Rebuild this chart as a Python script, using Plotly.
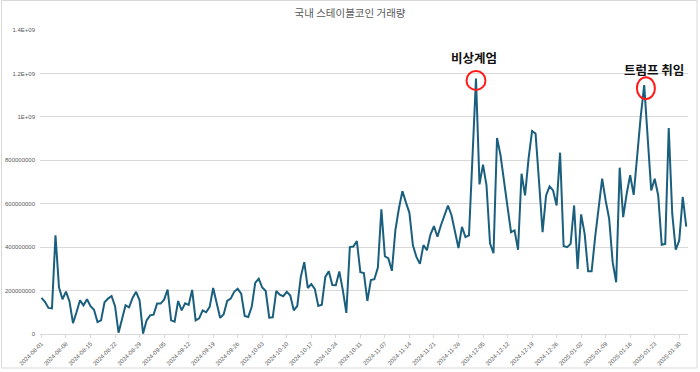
import pandas as pd
import plotly.graph_objects as go

TITLE = "국내 스테이블코인 거래량"
START_DATE = "2024-08-01"

# daily stablecoin trading volume (millions), 2024-08-01 .. 2025-02-01
volume_m = [
    166, 148, 120, 118, 455, 215, 160, 195, 150, 50,
    100, 155, 132, 160, 128, 112, 55, 63, 146, 163,
    175, 128, 6, 70, 132, 123, 166, 194, 155, 2,
    63, 86, 89, 140, 140, 158, 205, 63, 57, 152,
    109, 141, 134, 203, 63, 72, 109, 100, 125, 212,
    140, 74, 91, 152, 163, 194, 208, 186, 83, 78,
    125, 235, 255, 214, 198, 75, 77, 198, 181, 174,
    194, 177, 109, 129, 263, 331, 212, 230, 208, 129,
    135, 263, 289, 226, 225, 288, 202, 97, 400, 403,
    428, 285, 281, 152, 248, 252, 306, 574, 358, 348,
    291, 478, 578, 658, 606, 558, 408, 355, 323, 409,
    386, 458, 497, 448, 501, 543, 591, 548, 471, 396,
    493, 446, 454, 800, 1177, 689, 780, 685, 418, 372,
    903, 823, 692, 585, 469, 477, 388, 738, 638, 808,
    935, 923, 700, 469, 638, 680, 661, 592, 835, 405,
    400, 415, 592, 300, 551, 462, 289, 289, 446, 585,
    715, 615, 531, 331, 238, 766, 538, 646, 731, 641,
    840, 1000, 1146, 900, 661, 715, 638, 411, 415, 949,
    554, 388, 431, 631, 495,
]

y_tickvals = [0, 200000000, 400000000, 600000000, 800000000, 1000000000, 1200000000, 1400000000]
y_ticktext = ["0", "200000000", "400000000", "600000000", "800000000", "1E+09", "1.2E+09", "1.4E+09"]

event_labels = ["비상계엄", "트럼프 취임"]
event_dates = ["2024-12-03", "2025-01-20"]

dates = pd.date_range(START_DATE, periods=len(volume_m), freq="D")
values = [v * 1e6 for v in volume_m]
series = pd.Series(values, index=dates)

LINE_COLOR = "#1b5f7e"
GRID = "#d9d9d9"
TXT = "#595959"
FONT = "Liberation Sans, Arial, sans-serif"
KFONT = "Noto Sans CJK KR, sans-serif"

fig = go.Figure()
fig.add_trace(go.Scatter(
    x=dates, y=values, mode="lines",
    line=dict(color=LINE_COLOR, width=2),
    hoverinfo="skip", showlegend=False,
))

# event annotations: (xshift, yshift) of text, circle pixel box
text_offsets = [(-2, 21), (10, 16)]
circle_boxes = [(-9.5, 9.5, -11.5, 7.5), (-7.3, 10.7, -14, 8)]
shapes = []
annotations = []
for lab, d, (dx, dy), (cx0, cx1, cy0, cy1) in zip(event_labels, event_dates, text_offsets, circle_boxes):
    yv = series[pd.Timestamp(d)]
    annotations.append(dict(
        x=d, y=yv, xref="x", yref="y", text=f"<b>{lab}</b>", showarrow=False,
        xanchor="center", yanchor="middle", xshift=dx, yshift=dy,
        font=dict(family=KFONT, size=12.5, color="#111111"),
    ))
    shapes.append(dict(
        type="circle", xref="x", yref="y", xsizemode="pixel", ysizemode="pixel",
        xanchor=d, yanchor=yv, x0=cx0, x1=cx1, y0=cy0, y1=cy1,
        line=dict(color="#ff1a1a", width=2), fillcolor="rgba(0,0,0,0)", layer="above",
    ))

# white text box behind second label hides the gridline (except under the overflow)
shapes.append(dict(type="rect", xref="paper", yref="paper",
                   x0=(620 - 40) / 648, x1=(676 - 40) / 648,
                   y0=(334 - 77) / 304, y1=(334 - 62) / 304,
                   fillcolor="white", line=dict(width=0), layer="between"))
# chart border
shapes.append(dict(type="rect", xref="paper", yref="paper",
                   x0=(1.5 - 40) / 648, x1=(697 - 40) / 648,
                   y0=(334 - 368) / 304, y1=(334 - 0.5) / 304,
                   line=dict(color=GRID, width=1), fillcolor="rgba(0,0,0,0)", layer="below"))

fig.update_layout(
    width=700, height=372,
    template="none",
    paper_bgcolor="white", plot_bgcolor="white",
    margin=dict(l=40, r=12, t=30, b=38, autoexpand=False),
    title=dict(text=TITLE, x=0.5, xanchor="center", y=1 - 13 / 372, yanchor="middle",
               font=dict(family=KFONT, size=10.5, color=TXT)),
    shapes=shapes,
    annotations=annotations,
    showlegend=False,
)
fig.update_xaxes(
    type="date",
    range=[pd.Timestamp(START_DATE) - pd.Timedelta(hours=10), dates[-1] + pd.Timedelta(hours=12)],
    tick0=START_DATE, dtick=7 * 86400000, tickformat="%Y-%m-%d", tickangle=-45,
    showgrid=False, showline=True, linecolor=GRID, linewidth=1,
    ticks="outside", ticklen=3, tickcolor=GRID,
    tickfont=dict(family=FONT, size=6, color=TXT),
    automargin=False, zeroline=False,
)
fig.update_yaxes(
    range=[0, 1.4e9], tickmode="array", tickvals=y_tickvals, ticktext=y_ticktext,
    showgrid=True, gridcolor=GRID, gridwidth=1, zeroline=False, showline=False,
    ticks="", ticklabelstandoff=4,
    tickfont=dict(family=FONT, size=6, color=TXT),
    automargin=False,
)

fig.write_html(
    "out.html",
    config={"displayModeBar": False, "staticPlot": True},
    post_script="document.body.style.margin='0';document.body.style.overflow='hidden';",
)
